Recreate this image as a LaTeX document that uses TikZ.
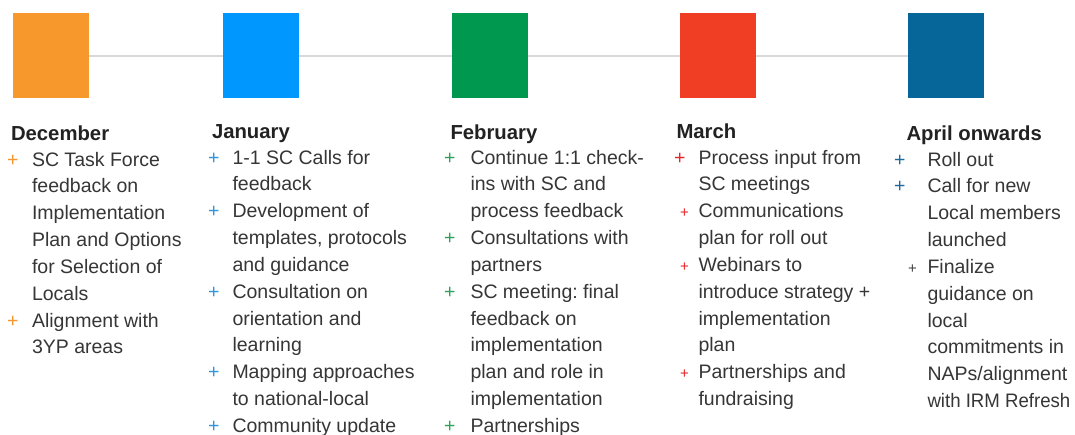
\documentclass[tikz,border=0pt]{standalone}
\usepackage{fontspec}
\setmainfont{Liberation Sans}
\usepackage{array}
\frenchspacing
\definecolor{sqOr}{HTML}{F7982D}
\definecolor{sqBl}{HTML}{0098FF}
\definecolor{sqGr}{HTML}{00974E}
\definecolor{sqRd}{HTML}{EF3E23}
\definecolor{sqDb}{HTML}{066699}
\definecolor{plOr}{HTML}{F5972F}
\definecolor{plBl}{HTML}{2E96DC}
\definecolor{plGr}{HTML}{2EA25C}
\definecolor{plRd}{HTML}{E8252B}
\definecolor{plDb}{HTML}{21689A}
\definecolor{plBk}{HTML}{444444}
\definecolor{headc}{HTML}{222222}
\definecolor{bodyc}{HTML}{363636}
\definecolor{linec}{HTML}{D9D9D9}
\newcommand{\pl}[2]{\makebox[#2][l]{\textcolor{#1}{+}}}
\newcommand{\spl}[3]{\makebox[#2][l]{\hspace{#3}\textcolor{#1}{\fontsize{15}{20}\selectfont +}}}
\begin{document}
\begin{tikzpicture}[x=1pt,y=-1pt,
  every node/.style={inner sep=0pt,outer sep=0pt},
  sq/.style={minimum width=76pt,minimum height=85pt,draw=none},
  timeline/.style={draw=linec,line width=2pt},
  head/.style={anchor=base west,font=\fontsize{20.3}{24}\selectfont\bfseries,text=headc},
  items/.style={anchor=base west,font=\fontsize{19.5}{26.85}\selectfont,text=bodyc}]
\useasboundingbox[fill=white] (0,0) rectangle (1075,434);

% timeline squares
\node[sq,fill=sqOr] (s1) at (51,55.5) {};
\node[sq,fill=sqBl] (s2) at (261,55.5) {};
\node[sq,fill=sqGr] (s3) at (489.7,55.5) {};
\node[sq,fill=sqRd] (s4) at (717.5,55.5) {};
\node[sq,fill=sqDb] (s5) at (946,55.5) {};
\draw[timeline] (s1.east) -- (s2.west);
\draw[timeline] (s2.east) -- (s3.west);
\draw[timeline] (s3.east) -- (s4.west);
\draw[timeline] (s4.east) -- (s5.west);

% headings
\node[head] (h1) at (11,140) {December};
\node[head] (h2) at (212,138) {January};
\node[head] (h3) at (450.5,139) {February};
\node[head] (h4) at (676.5,138.5) {March};
\node[head] (h5) at (906.5,140) {April onwards};

% December
\node[items] (l1) at (7,166) {\begin{tabular}[t]{@{}l@{}l@{}}
\pl{plOr}{25pt} & SC Task Force\\
 & feedback on\\
 & Implementation\\
 & Plan and Options\\
 & for Selection of\\
 & Locals\\
\pl{plOr}{25pt} & Alignment with\\
 & 3YP areas
\end{tabular}};

% January
\node[items] (l2) at (208,164) {\begin{tabular}[t]{@{}l@{}l@{}}
\pl{plBl}{24.5pt} & 1-1 SC Calls for\\
 & feedback\\
\pl{plBl}{24.5pt} & Development of\\
 & templates, protocols\\
 & and guidance\\
\pl{plBl}{24.5pt} & Consultation on\\
 & orientation and\\
 & learning\\
\pl{plBl}{24.5pt} & Mapping approaches\\
 & to national-local\\
\pl{plBl}{24.5pt} & Community update
\end{tabular}};

% February
\node[items] (l3) at (444,164) {\begin{tabular}[t]{@{}l@{}l@{}}
\pl{plGr}{26.5pt} & Continue 1:1 check-\\
 & ins with SC and\\
 & process feedback\\
\pl{plGr}{26.5pt} & Consultations with\\
 & partners\\
\pl{plGr}{26.5pt} & SC meeting: final\\
 & feedback on\\
 & implementation\\
 & plan and role in\\
 & implementation\\
\pl{plGr}{26.5pt} & Partnerships
\end{tabular}};

% March
\node[items] (l4) at (674,164) {\begin{tabular}[t]{@{}l@{}l@{}}
\pl{plRd}{24.5pt} & Process input from\\
 & SC meetings\\
\spl{plRd}{24.5pt}{6pt} & Communications\\
 & plan for roll out\\
\spl{plRd}{24.5pt}{6pt} & Webinars to\\
 & introduce strategy +\\
 & implementation\\
 & plan\\
\spl{plRd}{24.5pt}{6pt} & Partnerships and\\
 & fundraising
\end{tabular}};

% April onwards
\node[items] (l5) at (894,166) {\begin{tabular}[t]{@{}l@{}l@{}}
\pl{plDb}{33.5pt} & Roll out\\
\pl{plDb}{33.5pt} & Call for new\\
 & Local members\\
 & launched\\
\spl{plBk}{33.5pt}{14pt} & Finalize\\
 & guidance on\\
 & local\\
 & commitments in\\
 & NAPs/alignment\\
 & \scalebox{0.955}[1]{with IRM Refresh}
\end{tabular}};
\end{tikzpicture}
\end{document}
